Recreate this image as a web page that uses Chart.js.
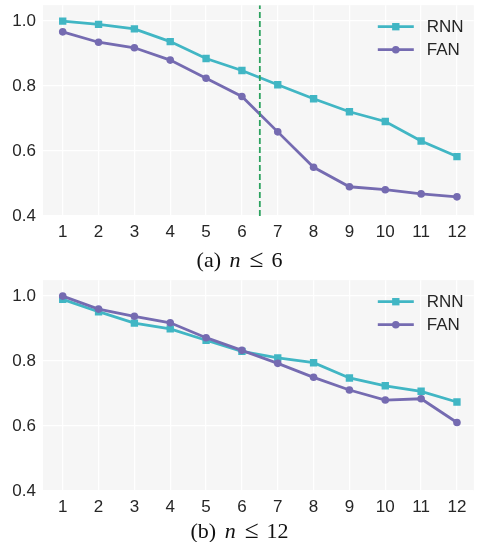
<!DOCTYPE html>
<html>
<head>
<meta charset="utf-8">
<script src="https://cdn.jsdelivr.net/npm/chart.js@4"></script>
<style>
  body { margin: 0; background: #fff; }
  #wrap { position: relative; width: 479px; height: 542px; overflow: hidden; }
  canvas { position: absolute; left: 0; }
  .cap {
    position: absolute; left: 0; width: 479px; text-align: center;
    font-family: "Liberation Serif", "DejaVu Serif", serif; font-size: 22px;
    line-height: 24px; color: #111;
  }
  .cap i { margin-left: 3px; }
  .rel { display: inline-block; font-size: 1.15em; margin: 0 8px 0 9px; }
</style>
</head>
<body>
<div id="wrap">
  <canvas id="chartA" width="479" height="246" style="top:0"></canvas>
  <div class="cap" style="top:246px">(a) <i>n</i><span class="rel">≤</span>6</div>
  <canvas id="chartB" width="479" height="246" style="top:275px"></canvas>
  <div class="cap" style="top:517px">(b) <i>n</i><span class="rel">≤</span>12</div>
</div>
<script>
// valores
const xLabels = [1, 2, 3, 4, 5, 6, 7, 8, 9, 10, 11, 12];
const yTicks = [0.4, 0.6, 0.8, 1.0];
const rnnA = [1.0, 0.99, 0.976, 0.937, 0.885, 0.848, 0.804, 0.761, 0.721, 0.691, 0.631, 0.583];
const fanA = [0.967, 0.935, 0.918, 0.880, 0.824, 0.768, 0.659, 0.550, 0.490, 0.481, 0.468, 0.459];
const rnnB = [0.990, 0.952, 0.917, 0.899, 0.864, 0.830, 0.810, 0.795, 0.748, 0.724, 0.707, 0.674];
const fanB = [1.0, 0.960, 0.938, 0.918, 0.872, 0.833, 0.793, 0.750, 0.711, 0.680, 0.684, 0.611];
const cutoffA = 6.5;
const yMin = 0.4, yMax = 1.049;

const colRNN = '#41b6c4';
const colFAN = '#756bb1';
const colCut = '#2ca25f';
const tickFont = { family: '"Liberation Sans", Arial, sans-serif', size: 17 };

// fondo gris del area del grafico
const bgPlugin = {
  id: 'bg',
  beforeDraw(chart) {
    const a = chart.chartArea, ctx = chart.ctx;
    ctx.save();
    ctx.fillStyle = '#f6f6f6';
    ctx.fillRect(a.left, a.top, a.right - a.left, a.bottom - a.top);
    ctx.restore();
  }
};

// leyenda dentro del area, linea + marcador
const legendPlugin = {
  id: 'innerLegend',
  afterDraw(chart) {
    const a = chart.chartArea, ctx = chart.ctx;
    const items = chart.data.datasets.filter(d => d.label);
    ctx.save();
    items.forEach((d, i) => {
      const y = a.top + 21.5 + i * 23;
      const x0 = a.right - 96, x1 = a.right - 60;
      ctx.strokeStyle = d.borderColor;
      ctx.lineWidth = d.borderWidth;
      ctx.beginPath();
      ctx.moveTo(x0, y);
      ctx.lineTo(x1, y);
      ctx.stroke();
      ctx.fillStyle = d.backgroundColor;
      const cx = (x0 + x1) / 2, r = d.pointRadius;
      if (d.pointStyle === 'rect') {
        const h = r * Math.SQRT1_2;
        ctx.fillRect(cx - h, y - h, 2 * h, 2 * h);
      } else {
        ctx.beginPath();
        ctx.arc(cx, y, r, 0, Math.PI * 2);
        ctx.fill();
      }
      ctx.fillStyle = '#262626';
      ctx.font = '17px "Liberation Sans", Arial, sans-serif';
      ctx.textBaseline = 'middle';
      ctx.fillText(d.label, a.right - 47, y + 1);
    });
    ctx.restore();
  }
};

function serie(label, values, color, style, order) {
  return {
    label: label,
    data: values.map((v, i) => ({ x: xLabels[i], y: v })),
    borderColor: color,
    backgroundColor: color,
    borderWidth: 2.8,
    pointStyle: style,
    pointRadius: style === 'rect' ? 5.2 : 3.8,
    pointBorderWidth: 0,
    order: order
  };
}

function crearGrafico(id, rnn, fan, cutoff) {
  const datasets = [
    serie('RNN', rnn, colRNN, 'rect', 3),
    serie('FAN', fan, colFAN, 'circle', 2)
  ];
  if (cutoff !== null) {
    datasets.push({
      label: '',
      data: [{ x: cutoff, y: yMin }, { x: cutoff, y: yMax }],
      borderColor: colCut,
      borderWidth: 1.8,
      borderDash: [6, 3],
      pointRadius: 0,
      order: 1
    });
  }
  return new Chart(document.getElementById(id), {
    type: 'line',
    data: { datasets: datasets },
    options: {
      responsive: false,
      animation: false,
      layout: { padding: { top: 2, right: 0, bottom: 0, left: 0 } },
      plugins: { legend: { display: false }, tooltip: { enabled: false } },
      scales: {
        x: {
          type: 'linear',
          min: 0.45,
          max: 12.47,
          afterBuildTicks: s => { s.ticks = xLabels.map(v => ({ value: v })); },
          afterFit: s => { s.height = 30; s.paddingLeft = 0; s.paddingRight = 0; },
          grid: { color: '#ffffff', lineWidth: 1.3, drawTicks: false },
          border: { display: false },
          ticks: { font: tickFont, color: '#262626', padding: 6, maxRotation: 0, autoSkip: false }
        },
        y: {
          min: yMin,
          max: yMax,
          afterBuildTicks: s => { s.ticks = yTicks.map(v => ({ value: v })); },
          afterFit: s => { s.width = 43; s.paddingTop = 0; s.paddingBottom = 0; },
          grid: { color: '#ffffff', lineWidth: 1.3, drawTicks: false },
          border: { display: false },
          ticks: { font: tickFont, color: '#262626', padding: 7, callback: v => v.toFixed(1) }
        }
      }
    },
    plugins: [bgPlugin, legendPlugin]
  });
}

crearGrafico('chartA', rnnA, fanA, cutoffA);
crearGrafico('chartB', rnnB, fanB, null);
</script>
</body>
</html>
